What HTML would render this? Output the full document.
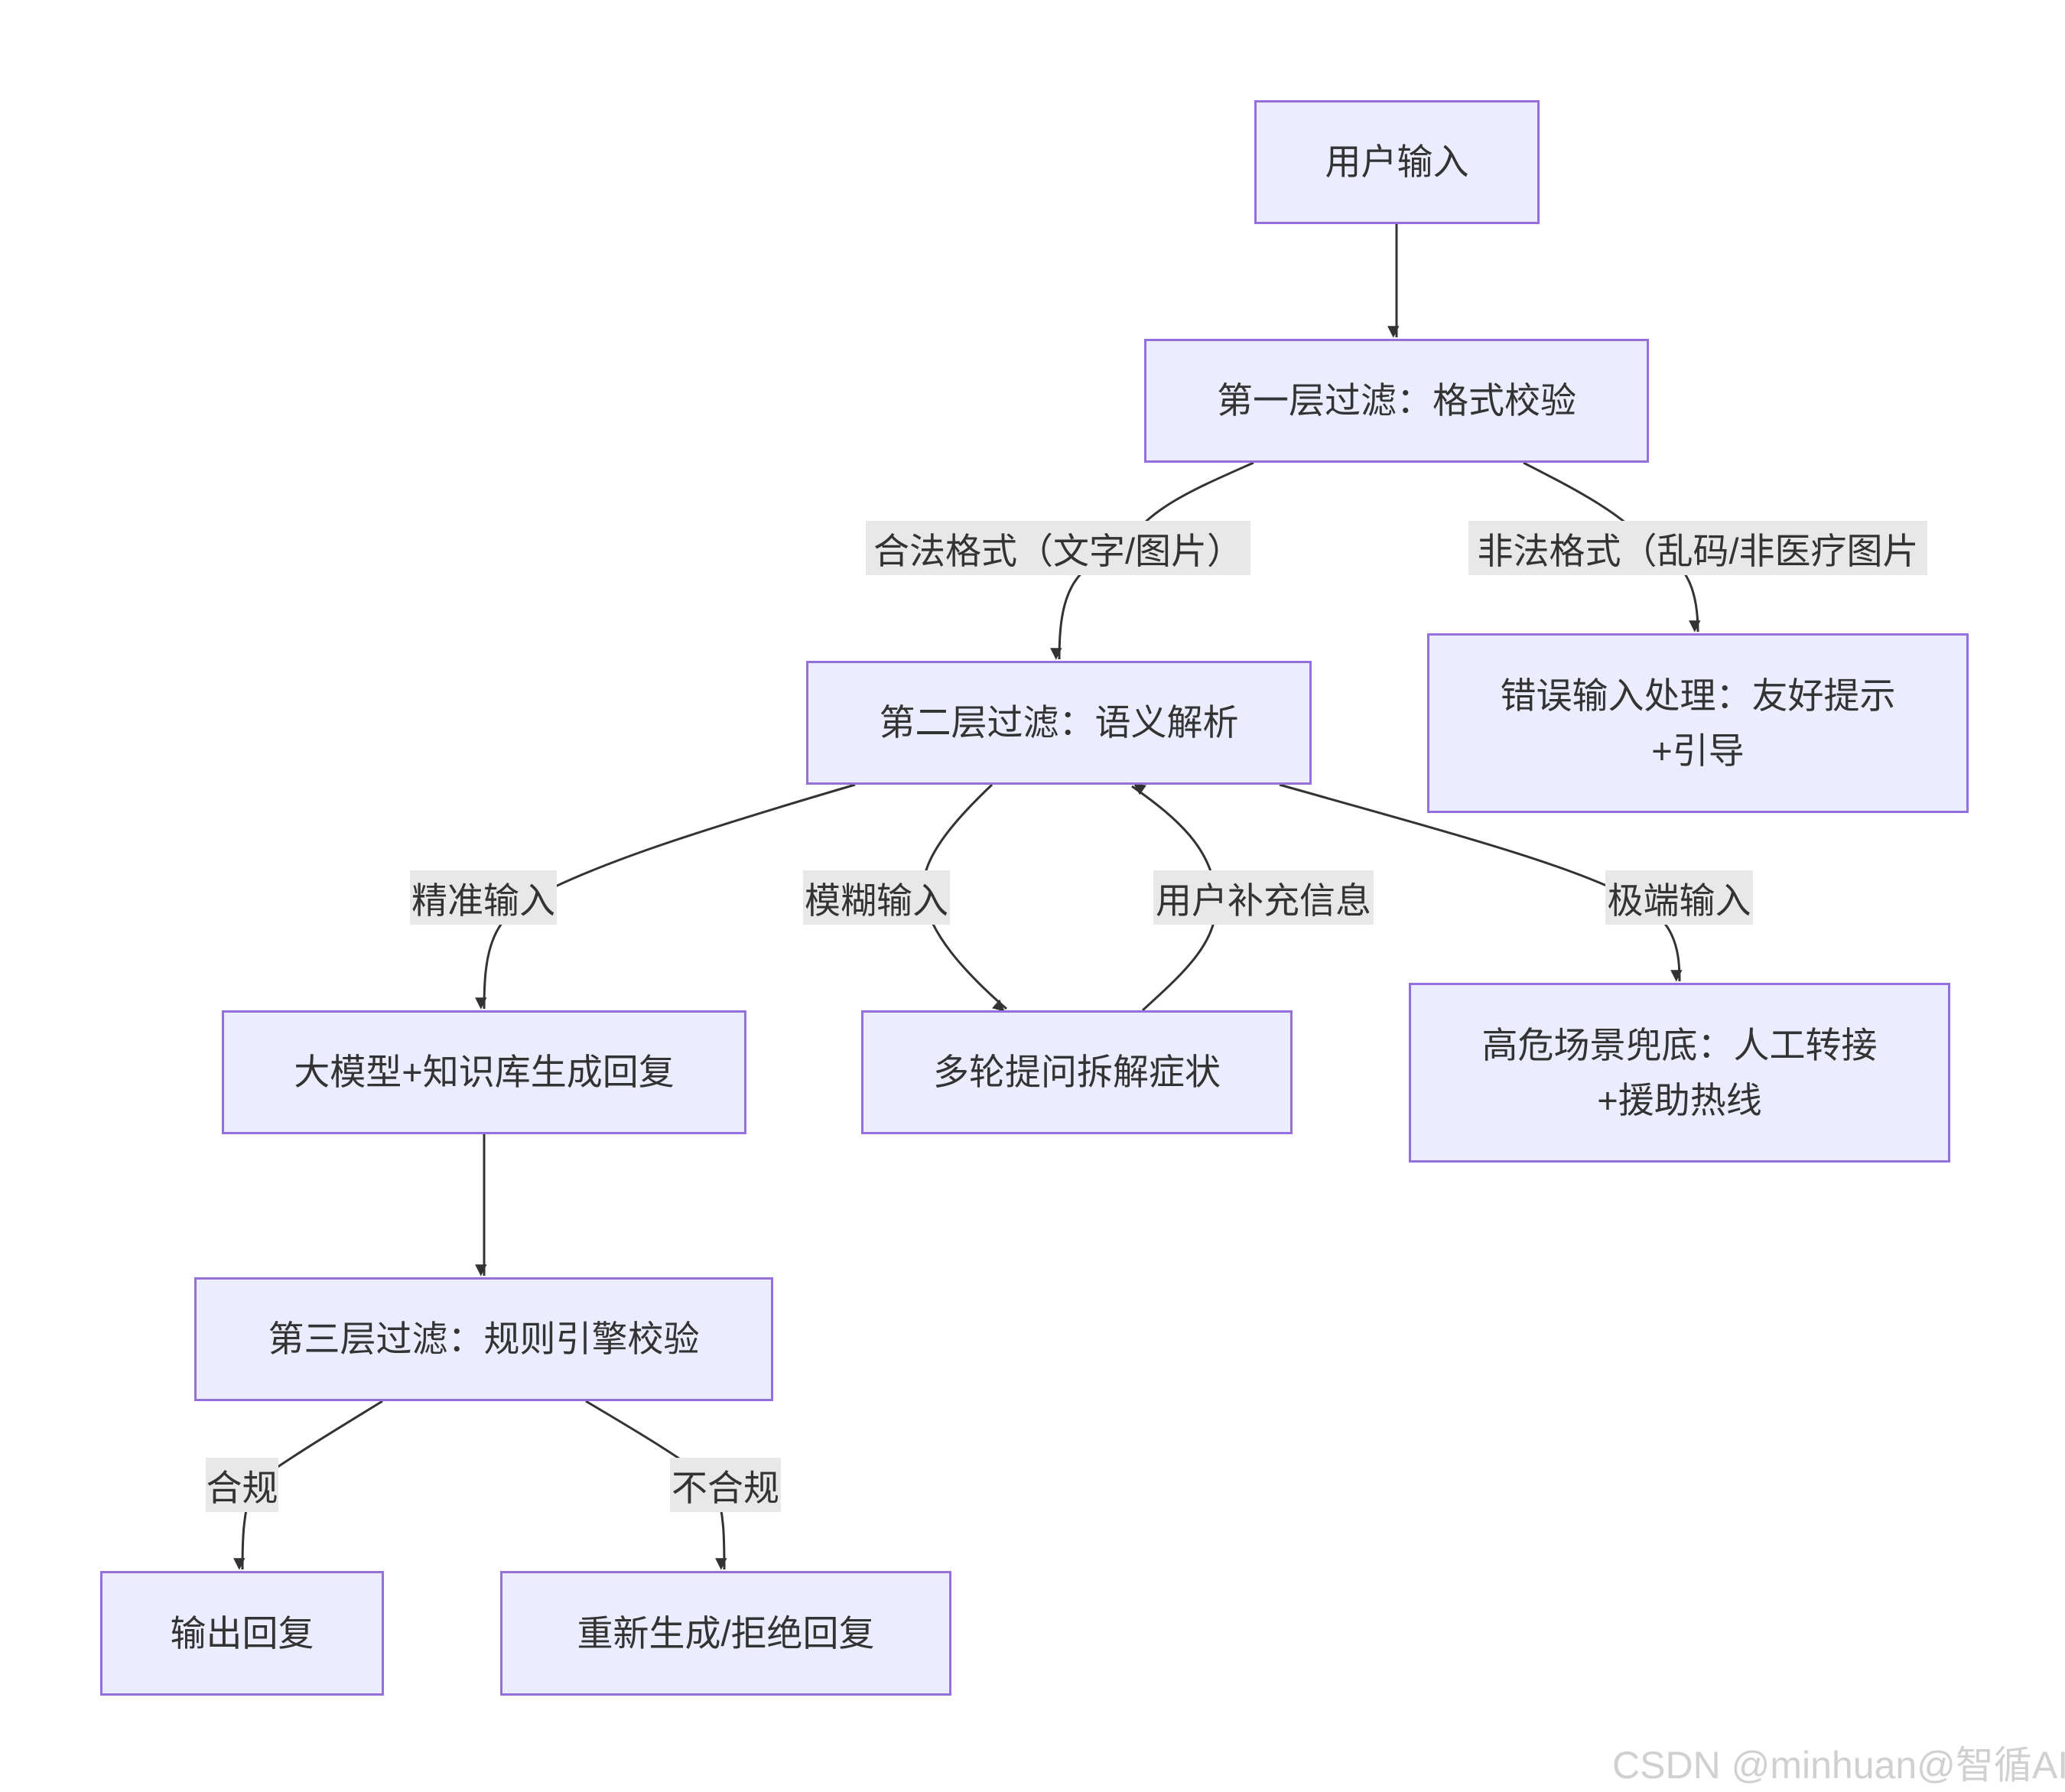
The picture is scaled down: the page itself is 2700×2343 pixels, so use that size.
<!DOCTYPE html>
<html><head><meta charset="utf-8"><style>
html,body{margin:0;padding:0;background:#fff;}
body{width:2700px;height:2343px;position:relative;overflow:hidden;font-family:"Liberation Sans","Noto Sans CJK SC",sans-serif;}
.n{position:absolute;box-sizing:border-box;background:#ececff;border:3px solid #9370db;display:flex;align-items:center;justify-content:center;text-align:center;font-size:47px;color:#333;line-height:72px;}
.l{position:absolute;background:#e8e8e8;display:flex;align-items:center;justify-content:center;font-size:47px;color:#333;white-space:nowrap;}
svg{position:absolute;left:0;top:0;}
</style></head><body>
<svg width="2700" height="2343">
<defs><marker id="a" viewBox="0 0 10 10" refX="9" refY="5" markerWidth="7" markerHeight="7" orient="auto-start-reverse" markerUnits="userSpaceOnUse" style="overflow:visible"><path d="M0,0 L10,5 L0,10 z" fill="#333" transform="scale(2.2) translate(-5.5,0)"/></marker></defs>
<g fill="none" stroke="#333" stroke-width="3">
<path d="M1826,293 L1826,441" marker-end="url(#a)"/>
<path d="M1639,605 C1560,640 1500,665 1470,716 C1400,740 1385,780 1385,862" marker-end="url(#a)"/>
<path d="M1992,605 C2060,640 2120,670 2160,716 C2210,735 2220,780 2220,826" marker-end="url(#a)"/>
<path d="M1118,1026 C900,1090 780,1130 700,1172 C640,1200 633,1250 633,1319" marker-end="url(#a)"/>
<path d="M1297,1026 C1240,1080 1200,1130 1208,1172 C1215,1220 1260,1270 1316,1319" marker-end="url(#a)"/>
<path d="M1494,1321 C1550,1270 1595,1230 1590,1172 C1585,1110 1540,1070 1480,1028" marker-end="url(#a)"/>
<path d="M1673,1026 C1900,1090 2050,1130 2130,1172 C2190,1200 2196,1240 2196,1283" marker-end="url(#a)"/>
<path d="M633,1483 L633,1668" marker-end="url(#a)"/>
<path d="M500,1832 C430,1875 380,1905 330,1941 C318,1980 317,2010 317,2052" marker-end="url(#a)"/>
<path d="M766,1832 C830,1870 890,1905 935,1941 C947,1980 947,2010 947,2052" marker-end="url(#a)"/>
</g>
</svg>
<div class="n" style="left:1640px;top:131px;width:373px;height:162px">用户输入</div>
<div class="n" style="left:1496px;top:443px;width:660px;height:162px">第一层过滤：格式校验</div>
<div class="n" style="left:1054px;top:864px;width:661px;height:162px">第二层过滤：语义解析</div>
<div class="n" style="left:1866px;top:828px;width:708px;height:235px">错误输入处理：友好提示<br>+引导</div>
<div class="n" style="left:290px;top:1321px;width:686px;height:162px">大模型+知识库生成回复</div>
<div class="n" style="left:1126px;top:1321px;width:564px;height:162px">多轮提问拆解症状</div>
<div class="n" style="left:1842px;top:1285px;width:708px;height:235px">高危场景兜底：人工转接<br>+援助热线</div>
<div class="n" style="left:254px;top:1670px;width:757px;height:162px">第三层过滤：规则引擎校验</div>
<div class="n" style="left:131px;top:2054px;width:371px;height:163px">输出回复</div>
<div class="n" style="left:654px;top:2054px;width:590px;height:163px">重新生成/拒绝回复</div>
<div class="l" style="left:1132px;top:681px;width:503px;height:71px">合法格式（文字/图片）</div>
<div class="l" style="left:1920px;top:681px;width:600px;height:71px">非法格式（乱码/非医疗图片</div>
<div class="l" style="left:536px;top:1138px;width:192px;height:71px">精准输入</div>
<div class="l" style="left:1050px;top:1138px;width:192px;height:71px">模糊输入</div>
<div class="l" style="left:1508px;top:1138px;width:288px;height:71px">用户补充信息</div>
<div class="l" style="left:2099px;top:1138px;width:193px;height:71px">极端输入</div>
<div class="l" style="left:269px;top:1906px;width:95px;height:71px">合规</div>
<div class="l" style="left:876px;top:1906px;width:145px;height:71px">不合规</div>
<div style="position:absolute;left:2108px;top:2268px;font-size:50px;color:#d0d0d0;white-space:nowrap;">CSDN @minhuan@智循AI</div>
</body></html>
